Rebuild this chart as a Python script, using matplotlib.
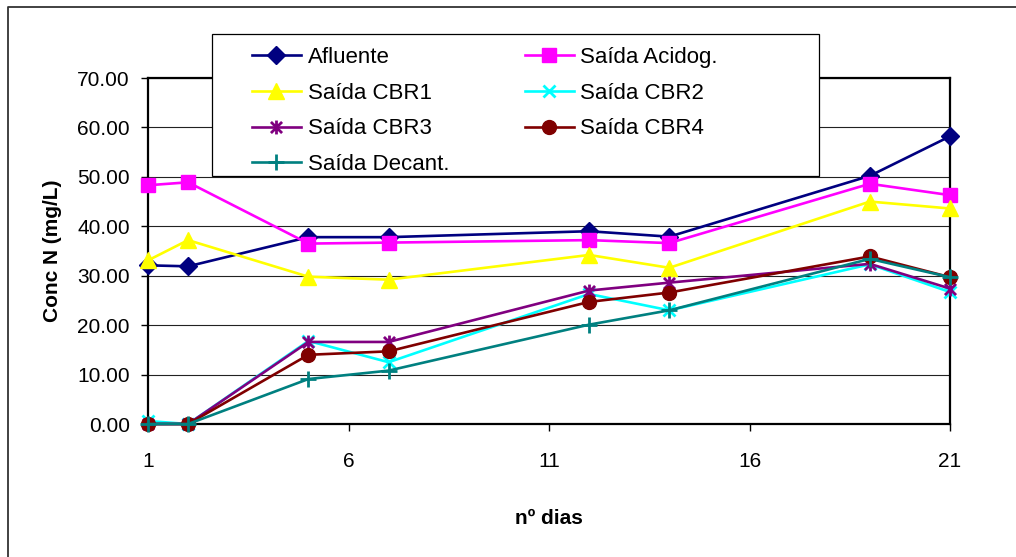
import matplotlib
matplotlib.use("Agg")
import matplotlib.pyplot as plt
from matplotlib.path import Path
from matplotlib.patches import Rectangle
from matplotlib.lines import Line2D

plt.rcParams['font.family'] = ['Liberation Sans', 'DejaVu Sans']

dias = [1, 2, 5, 7, 12, 14, 19, 21]

afluente = [32.1, 31.9, 37.8, 37.8, 39.0, 37.9, 50.2, 58.2]
acidog = [48.3, 48.9, 36.5, 36.7, 37.2, 36.6, 48.6, 46.3]
cbr1 = [33.1, 37.2, 29.8, 29.2, 34.2, 31.6, 45.0, 43.6]
cbr2 = [0.6, 0.0, 16.8, 12.5, 26.3, 23.0, 32.3, 26.7]
cbr3 = [0.0, 0.0, 16.6, 16.6, 27.0, 28.6, 32.4, 27.4]
cbr4 = [0.0, 0.0, 14.0, 14.7, 24.7, 26.6, 33.9, 29.7]
decant = [0.0, 0.0, 9.1, 10.8, 20.1, 23.0, 33.4, 29.7]

# asterisk marker: vertical bar plus an X
asterisco = Path(
    [(0, -1), (0, 1), (-0.8, -0.8), (0.8, 0.8), (-0.8, 0.8), (0.8, -0.8)],
    [Path.MOVETO, Path.LINETO, Path.MOVETO, Path.LINETO, Path.MOVETO, Path.LINETO],
)

series = [
    ("Afluente", afluente, "#000080", "D", 9),
    ("Saída Acidog.", acidog, "#FF00FF", "s", 10),
    ("Saída CBR1", cbr1, "#FFFF00", "^", 11),
    ("Saída CBR2", cbr2, "#00FFFF", "x", 9),
    ("Saída CBR3", cbr3, "#800080", asterisco, 10),
    ("Saída CBR4", cbr4, "#800000", "o", 10),
    ("Saída Decant.", decant, "#008080", "+", 11),
]

W, H = 1016, 557
fig = plt.figure(figsize=(W / 100, H / 100), dpi=100)
ax = fig.add_axes([148 / W, 1 - 424 / H, (950 - 148) / W, (424 - 78) / H])

handles = []
for nome, vals, cor, mk, ms in series:
    h, = ax.plot(dias, vals, color=cor, lw=1.9, marker=mk, markersize=ms,
                 markeredgewidth=2 if mk in ("x", "+") or mk is asterisco else 1,
                 markerfacecolor=cor, markeredgecolor=cor, label=nome,
                 clip_on=False, zorder=3)
    handles.append(h)

ax.set_xlim(1, 21)
ax.set_ylim(0, 70)
ax.set_xticks([1, 6, 11, 16, 21])
ax.set_yticks(range(0, 71, 10))
ax.yaxis.set_major_formatter(matplotlib.ticker.FormatStrFormatter('%.2f'))
ax.yaxis.grid(True, color='#222222', lw=0.8)
ax.set_axisbelow(True)
ax.tick_params(axis='y', direction='out', length=5, width=1, pad=8, labelsize=15)
ax.tick_params(axis='x', direction='out', length=5, width=1, pad=15, labelsize=15)
for sp in ax.spines.values():
    sp.set_linewidth(1.6)
    sp.set_color('black')

ax.set_xlabel("nº dias", fontsize=15, fontweight='bold', va='top')
ax.xaxis.set_label_coords(0.5, -0.245)
ax.set_ylabel("Conc N (mg/L)", fontsize=15, fontweight='bold')
ax.yaxis.set_label_coords(-0.107, 0.5)

# legend frame drawn separately so its box can sit over the plot area
fig.patches.append(Rectangle((212 / W, 1 - 176 / H), (819 - 212) / W, (176 - 34) / H,
                             transform=fig.transFigure, facecolor='white',
                             edgecolor='black', lw=0.9, zorder=1))
ordem = [0, 2, 4, 6, 1, 3, 5]
fig.legend([handles[i] for i in ordem], [series[i][0] for i in ordem],
           ncol=2, loc='upper left', bbox_to_anchor=(252 / W, 1 - 47 / H),
           frameon=False, borderpad=0, borderaxespad=0, fontsize=16,
           handlelength=2.2, handletextpad=0.3, columnspacing=3.4,
           labelspacing=0.66)

# chart area border
fig.lines.append(Line2D([8 / W, 8 / W, 1], [0, 1 - 7 / H, 1 - 7 / H],
                        transform=fig.transFigure, color='#333333', lw=1.3))

fig.savefig("out.png", dpi=100)
